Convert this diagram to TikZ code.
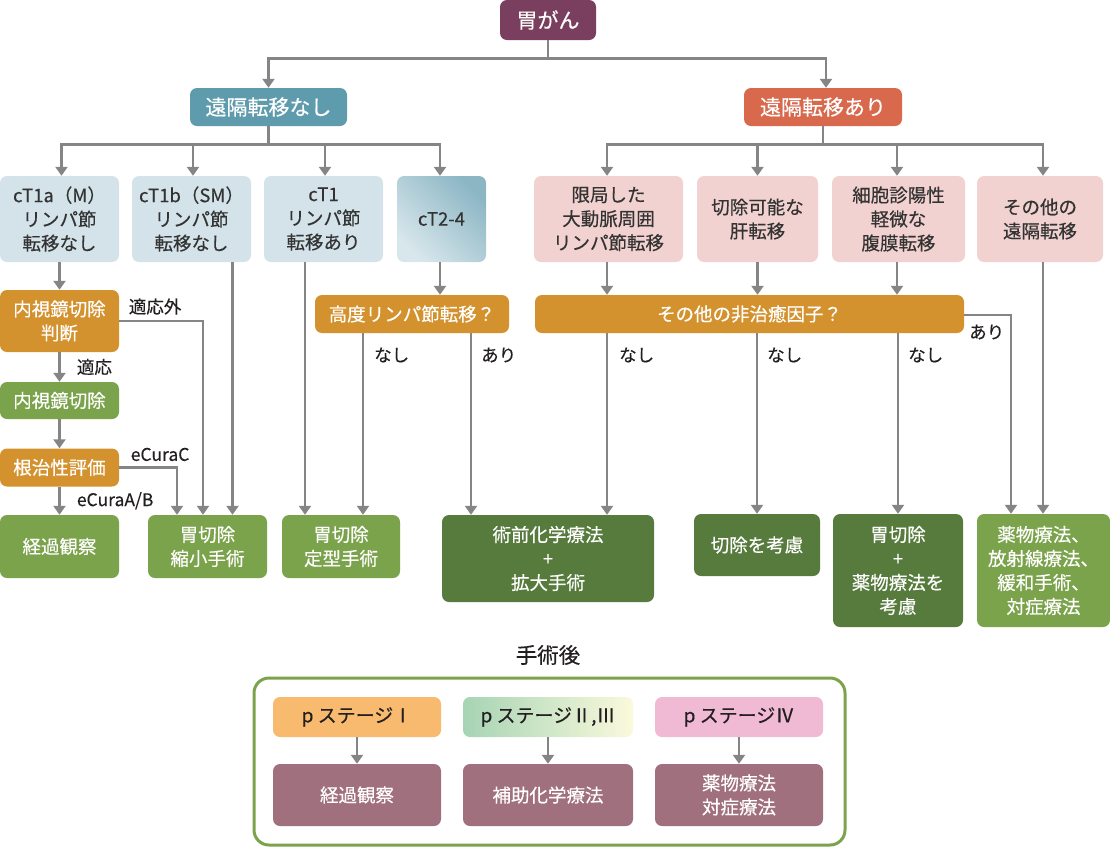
\documentclass[tikz,border=0pt]{standalone}
\usepackage{fontspec}
\setmainfont{Noto Sans CJK JP}[FakeBold=0.35]
\usetikzlibrary{arrows.meta}

\definecolor{plum}{HTML}{7A3F5E}
\definecolor{steel}{HTML}{5E9BAD}
\definecolor{coral}{HTML}{D9694C}
\definecolor{paleblue}{HTML}{D3E3E9}
\definecolor{blueA}{HTML}{D8E7EC}
\definecolor{blueB}{HTML}{8CB6C4}
\definecolor{palepink}{HTML}{F2D2D0}
\definecolor{ochre}{HTML}{D4922E}
\definecolor{leaf}{HTML}{7BA34B}
\definecolor{forest}{HTML}{567B3C}
\definecolor{apricot}{HTML}{F7BA6E}
\definecolor{mintA}{HTML}{A6D4B4}
\definecolor{creamB}{HTML}{FBF9DC}
\definecolor{rose}{HTML}{F0B9D4}
\definecolor{mauve}{HTML}{A1707F}
\definecolor{wire}{HTML}{858585}
\definecolor{ink}{HTML}{231F20}
\definecolor{darktext}{HTML}{333333}

\tikzset{
  box/.style={rounded corners=7pt, align=center, inner sep=0pt,
    font=\fontsize{18.5}{24}\selectfont},
  bigbox/.style={box, font=\fontsize{21}{26}\selectfont, text=white},
  lightbox/.style={box, text=darktext},
  darkbox/.style={box, text=white},
  ln/.style={draw=wire, line width=2.8pt},
  arr/.style={ln, -{Triangle[width=12pt,length=9pt]}},
  lbl/.style={text=ink, font=\fontsize{17.5}{20}\selectfont, inner sep=0pt},
}

\begin{document}
\begin{tikzpicture}[x=1pt,y=-1pt]
\useasboundingbox (0,0) rectangle (1110,847);

% ---- top levels ----
\node[bigbox, fill=plum, minimum width=96pt, minimum height=40pt] (gan) at (548,20) {胃がん};
\node[bigbox, fill=steel, minimum width=157pt, minimum height=38pt] (nomet) at (268.5,107) {遠隔転移なし};
\node[bigbox, fill=coral, minimum width=158pt, minimum height=38pt] (met) at (823,107) {遠隔転移あり};

% ---- second row ----
\node[lightbox, fill=paleblue, minimum width=119pt, minimum height=86pt] (ta) at (59.5,219) {cT1a（M）\\リンパ節\\転移なし};
\node[lightbox, fill=paleblue, minimum width=119pt, minimum height=86pt] (tb) at (191.5,219) {cT1b（SM）\\リンパ節\\転移なし};
\node[lightbox, fill=paleblue, minimum width=119pt, minimum height=86pt] (tc) at (323.5,219) {cT1\\リンパ節\\転移あり};
\node[lightbox, top color=blueA, bottom color=blueB, shading angle=135, minimum width=89pt, minimum height=86pt] (td) at (441.5,219) {cT2-4};
\node[lightbox, fill=palepink, minimum width=149pt, minimum height=86pt] (ma) at (608.5,219) {限局した\\大動脈周囲\\リンパ節転移};
\node[lightbox, fill=palepink, minimum width=121pt, minimum height=86pt] (mb) at (757.5,219) {切除可能な\\肝転移};
\node[lightbox, fill=palepink, minimum width=133pt, minimum height=86pt] (mc) at (898.5,219) {細胞診陽性\\軽微な\\腹膜転移};
\node[lightbox, fill=palepink, minimum width=126pt, minimum height=86pt] (md) at (1040,219) {その他の\\遠隔転移};

% ---- decision / process boxes ----
\node[darkbox, fill=ochre, minimum width=119pt, minimum height=62pt] (judge) at (59.5,321) {内視鏡切除\\判断};
\node[darkbox, fill=leaf, minimum width=119pt, minimum height=37pt] (esd) at (59.5,400.5) {内視鏡切除};
\node[darkbox, fill=ochre, minimum width=119pt, minimum height=38pt] (cura) at (59.5,467.5) {根治性評価};
\node[darkbox, fill=ochre, minimum width=194pt, minimum height=38pt] (lnq) at (412,314) {高度リンパ節転移？};
\node[darkbox, fill=ochre, minimum width=429pt, minimum height=38pt] (ncq) at (749.5,314) {その他の非治癒因子？};

% ---- outcome boxes ----
\node[darkbox, fill=leaf, minimum width=119pt, minimum height=63pt] (obs) at (59.5,546.5) {経過観察};
\node[darkbox, fill=leaf, minimum width=119pt, minimum height=63pt] (red) at (207.5,546.5) {胃切除\\縮小手術};
\node[darkbox, fill=leaf, minimum width=118pt, minimum height=63pt] (std) at (341,546.5) {胃切除\\定型手術};
\node[darkbox, fill=forest, minimum width=212pt, minimum height=87pt] (neo) at (548,558.5) {術前化学療法\\+\\拡大手術};
\node[darkbox, fill=forest, minimum width=126pt, minimum height=62pt] (cons) at (757,545) {切除を考慮};
\node[darkbox, fill=forest, minimum width=130pt, minimum height=113pt] (gdrug) at (898,570.5) {胃切除\\+\\薬物療法を\\考慮};
\node[darkbox, fill=leaf, minimum width=133pt, minimum height=113pt] (pall) at (1043.5,570.5) {薬物療法、\\放射線療法、\\緩和手術、\\対症療法};

% ---- connectors: top ----
\draw[ln] (gan.south) -- ++(0,18) coordinate (j0);
\draw[arr] (j0) -| (nomet.north);
\draw[arr] (j0) -| ([xshift=3pt]met.north);

\draw[ln] (nomet.south) -- ++(0,18) coordinate (j1);
\draw[arr] (j1) -| ([xshift=2pt]ta.north);
\draw[arr] (j1) -| ([xshift=1.5pt]tb.north);
\draw[arr] (j1) -| ([xshift=1.5pt]tc.north);
\draw[arr] (j1) -| ([xshift=-1.5pt]td.north);

\draw[ln] (met.south) -- ++(0,18) coordinate (j2);
\draw[arr] (j2) -| ([xshift=-1.5pt]ma.north);
\draw[arr] (j2) -| (mb.north);
\draw[arr] (j2) -| ([xshift=-1.5pt]mc.north);
\draw[arr] (j2) -| ([xshift=3pt]md.north);

% ---- left column ----
\draw[arr] (ta.south) -- (judge.north);
\draw[arr] (judge.south) -- node[lbl, anchor=west, pos=0.5, xshift=16pt] {適応} (esd.north);
\draw[arr] (esd.south) -- (cura.north);
\draw[arr] (cura.south) -- node[lbl, anchor=west, pos=0.5, xshift=16pt] {eCuraA/B} (obs.north);
\draw[arr] (judge.east) -| node[lbl, pos=0.25, anchor=south, yshift=5pt, xshift=-6pt] {適応外} ([xshift=-4.5pt]red.north);
\draw[arr] (cura.east) -| node[lbl, pos=0.25, anchor=south, yshift=5pt, xshift=12pt] {eCuraC} ([xshift=-30.5pt]red.north);
\draw[arr] ([xshift=41pt]tb.south) -- ([xshift=41pt]tb.south |- red.north);

% ---- middle ----
\draw[arr] ([xshift=-18.5pt]tc.south) -- ([xshift=-18.5pt]tc.south |- std.north);
\draw[arr] ([xshift=-1.5pt]td.south) -- ([xshift=-1.5pt]td.south |- lnq.north);
\draw[arr] ([xshift=-49pt]lnq.south) -- ([xshift=-49pt]lnq.south |- std.north);
\draw[arr] ([xshift=59pt]lnq.south) -- ([xshift=59pt]lnq.south |- neo.north);
\node[lbl, anchor=west] at (374,355) {なし};
\node[lbl, anchor=west] at (481,355) {あり};

% ---- right ----
\draw[arr] ([xshift=-1.5pt]ma.south) -- ([xshift=-1.5pt]ma.south |- ncq.north);
\draw[arr] (mb.south) -- (mb.south |- ncq.north);
\draw[arr] ([xshift=-1.5pt]mc.south) -- ([xshift=-1.5pt]mc.south |- ncq.north);
\draw[arr] ([xshift=-142.5pt]ncq.south) -- ([xshift=-142.5pt]ncq.south |- neo.north);
\draw[arr] ([xshift=7.5pt]ncq.south) -- ([xshift=7.5pt]ncq.south |- cons.north);
\draw[arr] ([xshift=148.5pt]ncq.south) -- ([xshift=148.5pt]ncq.south |- gdrug.north);
\draw[arr] ([yshift=-1pt]ncq.east) -| ([xshift=-32.5pt]pall.north);
\draw[arr] ([xshift=3pt]md.south) -- ([xshift=3pt]md.south |- pall.north);
\node[lbl, anchor=west] at (619,355) {なし};
\node[lbl, anchor=west] at (767,355) {なし};
\node[lbl, anchor=west] at (908,355) {なし};
\node[lbl, anchor=west] at (969,332) {あり};

% ---- post-operative panel ----
\node[text=ink, font=\fontsize{21.5}{24}\selectfont, inner sep=0pt] (post) at (548,655) {手術後};
\draw[leaf, line width=3pt, rounded corners=15pt] (254,678) rectangle (845,845);

\node[lightbox, text=ink, fill=apricot, minimum width=168pt, minimum height=40pt, font=\fontsize{19}{24}\selectfont] (s1) at (357,717) {p ステージⅠ};
\node[lightbox, text=ink, left color=mintA, right color=creamB, minimum width=170pt, minimum height=40pt, font=\fontsize{19}{24}\selectfont] (s2) at (548,717) {p ステージⅡ,Ⅲ};
\node[lightbox, text=ink, fill=rose, minimum width=168pt, minimum height=40pt, font=\fontsize{19}{24}\selectfont] (s4) at (739,717) {p ステージⅣ};

\node[darkbox, fill=mauve, minimum width=168pt, minimum height=62pt] (r1) at (357,795) {経過観察};
\node[darkbox, fill=mauve, minimum width=170pt, minimum height=62pt] (r2) at (548,795) {補助化学療法};
\node[darkbox, fill=mauve, minimum width=168pt, minimum height=62pt] (r4) at (739,795) {薬物療法\\対症療法};

\draw[arr] (s1.south) -- (r1.north);
\draw[arr] (s2.south) -- (r2.north);
\draw[arr] (s4.south) -- (r4.north);
\end{tikzpicture}
\end{document}
